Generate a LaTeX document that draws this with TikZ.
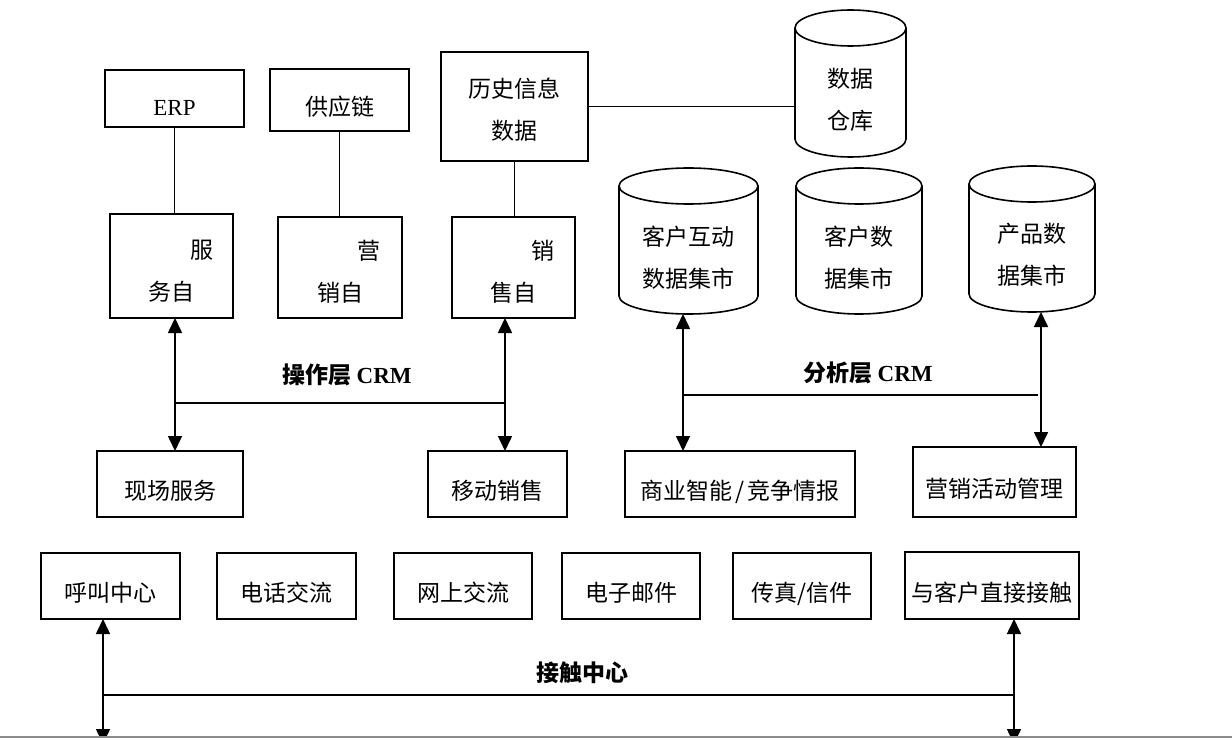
\documentclass[tikz,border=0pt]{standalone}
\usepackage{fontspec}
\setmainfont{Noto Sans CJK SC}
\newfontfamily\tm{Liberation Serif}
\usetikzlibrary{arrows.meta,calc}
\newcommand\mycyl[5]{% name, x1, x2, ytop, ybottom
  \node[inner sep=0pt, outer sep=0pt, minimum width={(#3-#2)*1pt}, minimum height={(#5-#4)*1pt}] (#1) at ({(#2+#3)/2},{(#4+#5)/2}) {};
  \draw[ln] ({(#2+#3)/2},{#4+18}) ellipse [x radius={(#3-#2)/2*1pt}, y radius=18pt];
  \draw[ln] (#2,{#4+18}) -- (#2,{#5-18}) arc[start angle=180, end angle=360, x radius={(#3-#2)/2*1pt}, y radius=18pt] -- (#3,{#4+18});
}
\begin{document}
\begin{tikzpicture}[x=1pt,y=-1pt,
  ln/.style={line width=1.6pt, line join=miter},
  box/.style={ln, draw, rectangle, inner sep=0pt, outer sep=0pt, font=\fontsize{23}{28}\selectfont, text height=31pt, text depth=0pt},
  ebox/.style={ln, draw, rectangle, inner sep=0pt, outer sep=0pt},
  mtxt/.style={inner sep=0pt, align=center, font=\fontsize{23}{42}\selectfont},
  lab/.style={inner sep=0pt, font=\bfseries\fontsize{23}{28}\selectfont},
  arr/.style={ln, {Triangle[length=15pt,width=14pt]}-{Triangle[length=15pt,width=14pt]}}
]
\useasboundingbox (0,0) rectangle (1232,738);
\clip (0,0) rectangle (1232,738);

% top boxes
\node[box, minimum width=139pt, minimum height=57pt, text height=35pt] (erp) at (174.5,98.5) {\tm ERP};
\node[box, minimum width=139pt, minimum height=62pt] (gyl) at (339.5,100) {供应链};
\node[ebox, minimum width=147pt, minimum height=109pt] (lsx) at (514.5,106.5) {};
\node[mtxt] (lsxT) at (514.5,109.5) {历史信息\\数据};

% self-service boxes
\node[ebox, minimum width=123pt, minimum height=104pt] (fw) at (171.5,266) {};
\node[mtxt] (fwT) at (171.5,271) {\hspace*{60pt}服\\务自};
\node[ebox, minimum width=124pt, minimum height=101pt] (yx) at (340,267.5) {};
\node[mtxt] (yxT) at (340,271.5) {\hspace*{58pt}营\\销自};
\node[ebox, minimum width=123pt, minimum height=101pt] (xs) at (513.5,267.5) {};
\node[mtxt] (xsT) at (513.5,272) {\hspace*{59pt}销\\售自};

% cylinders
\mycyl{sjck}{795}{906}{10}{157}
\node[mtxt] (sjckT) at (850.5,100) {数据\\仓库};
\mycyl{khhd}{619}{758}{168}{314}
\node[mtxt] (khhdT) at (688.5,257.5) {客户互动\\数据集市};
\mycyl{khsj}{796}{922}{168}{314}
\node[mtxt] (khsjT) at (859,257.5) {客户数\\据集市};
\mycyl{cpsj}{969}{1095}{166}{312}
\node[mtxt] (cpsjT) at (1032,255) {产品数\\据集市};

% middle boxes
\node[box, minimum width=146pt, minimum height=66pt] (xcfw) at (170,484) {现场服务};
\node[box, minimum width=139pt, minimum height=66pt] (ydxs) at (497.5,484) {移动销售};
\node[box, minimum width=230pt, minimum height=66pt] (syzn) at (740,484) {商业智能\kern3pt/\kern3pt竞争情报};
\node[box, minimum width=163pt, minimum height=70pt] (yxhd) at (994.5,482) {营销活动管理};

% bottom boxes
\node[box, minimum width=139pt, minimum height=66pt] (hjzx) at (110.5,586) {呼叫中心};
\node[box, minimum width=139pt, minimum height=66pt] (dhjl) at (286.5,586) {电话交流};
\node[box, minimum width=138pt, minimum height=66pt] (wsjl) at (463,586) {网上交流};
\node[box, minimum width=138pt, minimum height=66pt] (dzyj) at (631,586) {电子邮件};
\node[box, minimum width=138pt, minimum height=66pt] (czxj) at (802,586) {传真/信件};
\node[box, minimum width=174pt, minimum height=67pt] (ykh) at (992,585.5) {与客户直接接触};

% plain connectors
\draw[ln] (erp.south) -- (erp.south |- fw.north);
\draw[ln] (gyl.south) -- (gyl.south |- yx.north);
\draw[ln] (lsx.south) -- (lsx.south |- xs.north);
\draw[ln] (lsx.east) -- (lsx.east -| sjck.west);

% operational CRM
\coordinate (opL) at (175,403);
\coordinate (opR) at (505,403);
\draw[arr] (opL |- fw.south) -- (opL |- xcfw.north);
\draw[arr] (opR |- xs.south) -- (opR |- ydxs.north);
\draw[ln] (opL) -- (opR);
\node[lab] (opLab) at (347,375) {操作层 {\tm CRM}};

% analytical CRM
\coordinate (anL) at (683,395);
\coordinate (anR) at (1041,395);
\draw[arr] (anL |- khhd.south) -- (anL |- syzn.north);
\draw[arr] (anR |- cpsj.south) -- (anR |- yxhd.north);
\draw[ln] (anL) -- ([xshift=-3pt]anR);
\node[lab] (anLab) at (868,373) {分析层 {\tm CRM}};

% contact center
\coordinate (base) at (600,744);
\coordinate (ctL) at (103,695);
\coordinate (ctR) at (1014,695);
\draw[arr] (ctL |- hjzx.south) -- (ctL |- base);
\draw[arr] (ctR |- ykh.south) -- (ctR |- base);
\draw[ln] (ctL) -- (ctR);
\node[lab] (ctLab) at (582,673) {接触中心};

% bottom gray rule
\coordinate (gl1) at (0,737);
\coordinate (gl2) at (1232,737);
\draw[line width=2pt, black!45] (gl1) -- (gl2);
\end{tikzpicture}
\end{document}
